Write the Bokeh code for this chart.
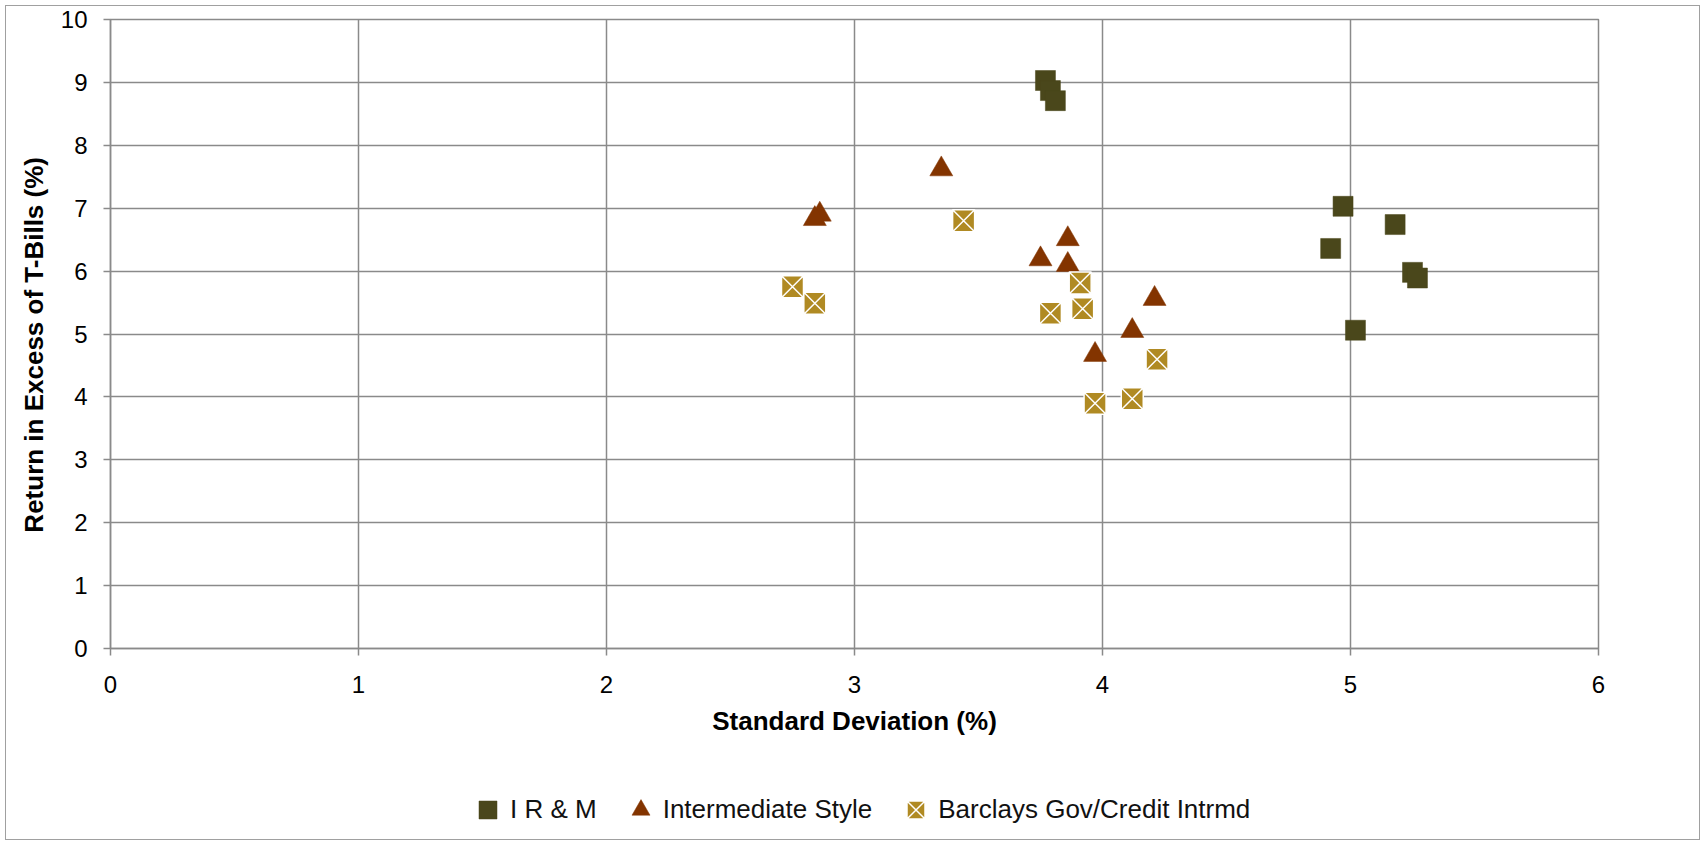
from bokeh.plotting import figure
from bokeh.layouts import column
from bokeh.models import Range1d, FixedTicker, Legend, LegendItem, ColumnDataSource
from bokeh.embed import file_html
from bokeh.resources import INLINE

# ---- data ----
irm_sd = [3.77, 3.79, 3.81, 4.97, 5.18, 4.92, 5.25, 5.27, 5.02]
irm_ret = [9.03, 8.87, 8.71, 7.03, 6.74, 6.36, 5.98, 5.89, 5.06]

style_sd = [3.35, 2.86, 2.84, 3.86, 3.75, 3.86, 4.21, 4.12, 3.97]
style_ret = [7.62, 6.90, 6.83, 6.51, 6.19, 6.10, 5.56, 5.05, 4.67]

barc_sd = [3.44, 2.75, 2.84, 3.91, 3.79, 3.92, 4.22, 3.97, 4.12]
barc_ret = [6.80, 5.75, 5.49, 5.81, 5.33, 5.40, 4.60, 3.90, 3.97]

series_names = ["I R & M", "Intermediate Style", "Barclays Gov/Credit Intrmd"]
x_ticks = [0, 1, 2, 3, 4, 5, 6]
y_ticks = [0, 1, 2, 3, 4, 5, 6, 7, 8, 9, 10]
x_title = "Standard Deviation (%)"
y_title = "Return in Excess  of  T-Bills  (%)"

GRID = "#8a8a8a"
FONT = "Liberation Sans"
C_IRM, C_STY, C_BAR = "#4a471b", "#833400", "#b08a23"

src_irm = ColumnDataSource(dict(x=irm_sd, y=irm_ret))
src_sty = ColumnDataSource(dict(x=style_sd, y=style_ret))
src_bar = ColumnDataSource(dict(x=barc_sd, y=barc_ret))


def add_series(fig):
    a = fig.scatter("x", "y", source=src_irm, marker="square", size=20,
                    fill_color=C_IRM, line_color=C_IRM, line_width=0.5)
    b = fig.scatter("x", "y", source=src_sty, marker="triangle", size=23,
                    fill_color=C_STY, line_color=C_STY, line_width=0.5)
    c = fig.scatter("x", "y", source=src_bar, marker="square_x", size=22,
                    fill_color=C_BAR, line_color="white", line_width=1.5)
    return a, b, c


# ---- main chart ----
p = figure(width=1705, height=760, output_backend="svg", toolbar_location=None,
           x_range=Range1d(0, 6), y_range=Range1d(0, 10),
           min_border_left=110, min_border_right=107, min_border_top=19,
           min_border_bottom=112)
p.background_fill_color = "white"
p.border_fill_alpha = 0
p.outline_line_color = GRID
p.outline_line_width = 1.5

p.xaxis.ticker = FixedTicker(ticks=x_ticks)
p.yaxis.ticker = FixedTicker(ticks=y_ticks)
p.xaxis.axis_label = x_title
p.yaxis.axis_label = y_title

for ax in (p.xaxis[0], p.yaxis[0]):
    ax.axis_line_color = GRID
    ax.axis_line_width = 1.5
    ax.major_tick_line_color = GRID
    ax.major_tick_line_width = 1.5
    ax.major_tick_in = 0
    ax.major_tick_out = 7
    ax.minor_tick_line_color = None
    ax.major_label_text_font = FONT
    ax.major_label_text_font_size = "24px"
    ax.major_label_text_color = "black"
    ax.axis_label_text_font = FONT
    ax.axis_label_text_font_style = "bold"
    ax.axis_label_text_font_size = "26px"
    ax.axis_label_text_color = "black"

p.xaxis.major_label_standoff = 20
p.xaxis.axis_label_standoff = 10
p.yaxis.major_label_standoff = 16
p.yaxis.axis_label_standoff = 9

for g in (p.xgrid[0], p.ygrid[0]):
    g.grid_line_color = GRID
    g.grid_line_width = 1.5

add_series(p)

# ---- legend strip (its series lie outside its own ranges; only the key shows) ----
q = figure(width=1705, height=85, output_backend="svg", toolbar_location=None,
           x_range=Range1d(0, 1), y_range=Range1d(0, 1),
           x_axis_location=None, y_axis_location=None,
           min_border_left=0, min_border_right=0, min_border_top=0,
           min_border_bottom=0)
q.grid.visible = False
q.outline_line_color = None
q.background_fill_alpha = 0
q.border_fill_alpha = 0
k1, k2, k3 = add_series(q)

legend = Legend(items=[LegendItem(label=series_names[0], renderers=[k1]),
                       LegendItem(label=series_names[1], renderers=[k2]),
                       LegendItem(label=series_names[2], renderers=[k3])],
                orientation="horizontal", location=(355, 13),
                glyph_width=45, glyph_height=45, label_standoff=-7, spacing=21,
                padding=0, margin=0, border_line_color=None,
                background_fill_alpha=0, label_text_font=FONT,
                label_text_font_size="26px", label_text_color="#111111")
q.add_layout(legend, "center")

page = column(p, q, spacing=0,
              styles={"outline": "1px solid #a0a0a0", "outline-offset": "-6px",
                      "background-color": "white"})

open("out.html", "w").write(file_html(page, INLINE))
